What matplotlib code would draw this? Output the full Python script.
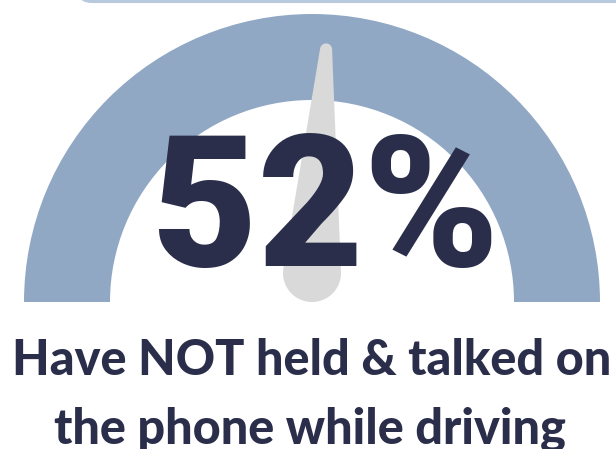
import numpy as np
import matplotlib
matplotlib.use('Agg')
import matplotlib.pyplot as plt
from matplotlib.patches import Wedge, Polygon, FancyBboxPatch

# data
value = 52          # percent
label = '52%'
caption = ['Have NOT held & talked on', 'the phone while driving']

W, H = 616, 449
arc_color = '#91a8c5'
needle_color = '#d9d9d9'
text_color = '#2b2e4a'

fig = plt.figure(figsize=(W / 100, H / 100), dpi=100)
ax = fig.add_axes([0, 0, 1, 1])
ax.set_xlim(0, W)
ax.set_ylim(0, H)
ax.axis('off')

# card edge at the very top
ax.add_patch(FancyBboxPatch((78, H - 1.5), 600, 60, boxstyle='round,pad=0,rounding_size=14',
                            facecolor='white', edgecolor='#b9c9dd', linewidth=2.2))

# gauge band
cx, cy = 312, H - 302
r_out, r_in = 288, 202
ax.add_patch(Wedge((cx, cy), r_out, 0, 180, width=r_out - r_in, facecolor=arc_color, edgecolor='none'))

# needle: hull of a fat base circle and a thin tip circle
r0, r1, L = 29, 6, 224
bx, by = cx, cy + r0
a = np.radians(180 - value / 100 * 180)
beta = np.arccos((r0 - r1) / L)
tx, ty = bx + L * np.cos(a), by + L * np.sin(a)
t1 = np.linspace(a - beta, a + beta, 30)
t2 = np.linspace(a + beta, a + 2 * np.pi - beta, 80)
pts = np.vstack([np.column_stack([tx + r1 * np.cos(t1), ty + r1 * np.sin(t1)]),
                 np.column_stack([bx + r0 * np.cos(t2), by + r0 * np.sin(t2)])])
ax.add_patch(Polygon(pts, closed=True, facecolor=needle_color, edgecolor='none'))

renderer = fig.canvas.get_renderer()


def fit_text(x, y, s, width, size, **kw):
    t = ax.text(x, y, s, fontsize=size, ha='center', va='baseline', **kw)
    w = t.get_window_extent(renderer).width
    t.set_fontsize(size * width / w)
    return t


fit_text(326, H - 266, label, 347, 130, color=text_color, fontweight=900, family='Roboto')

cap = fit_text(312, H - 375, caption[0], 600, 33, color=text_color, fontweight=900, family='Lato')
ax.text(310, H - 443, caption[1], fontsize=cap.get_fontsize(), ha='center', va='baseline',
        color=text_color, fontweight=900, family='Lato')

fig.savefig('out.png', dpi=100, facecolor='white')
